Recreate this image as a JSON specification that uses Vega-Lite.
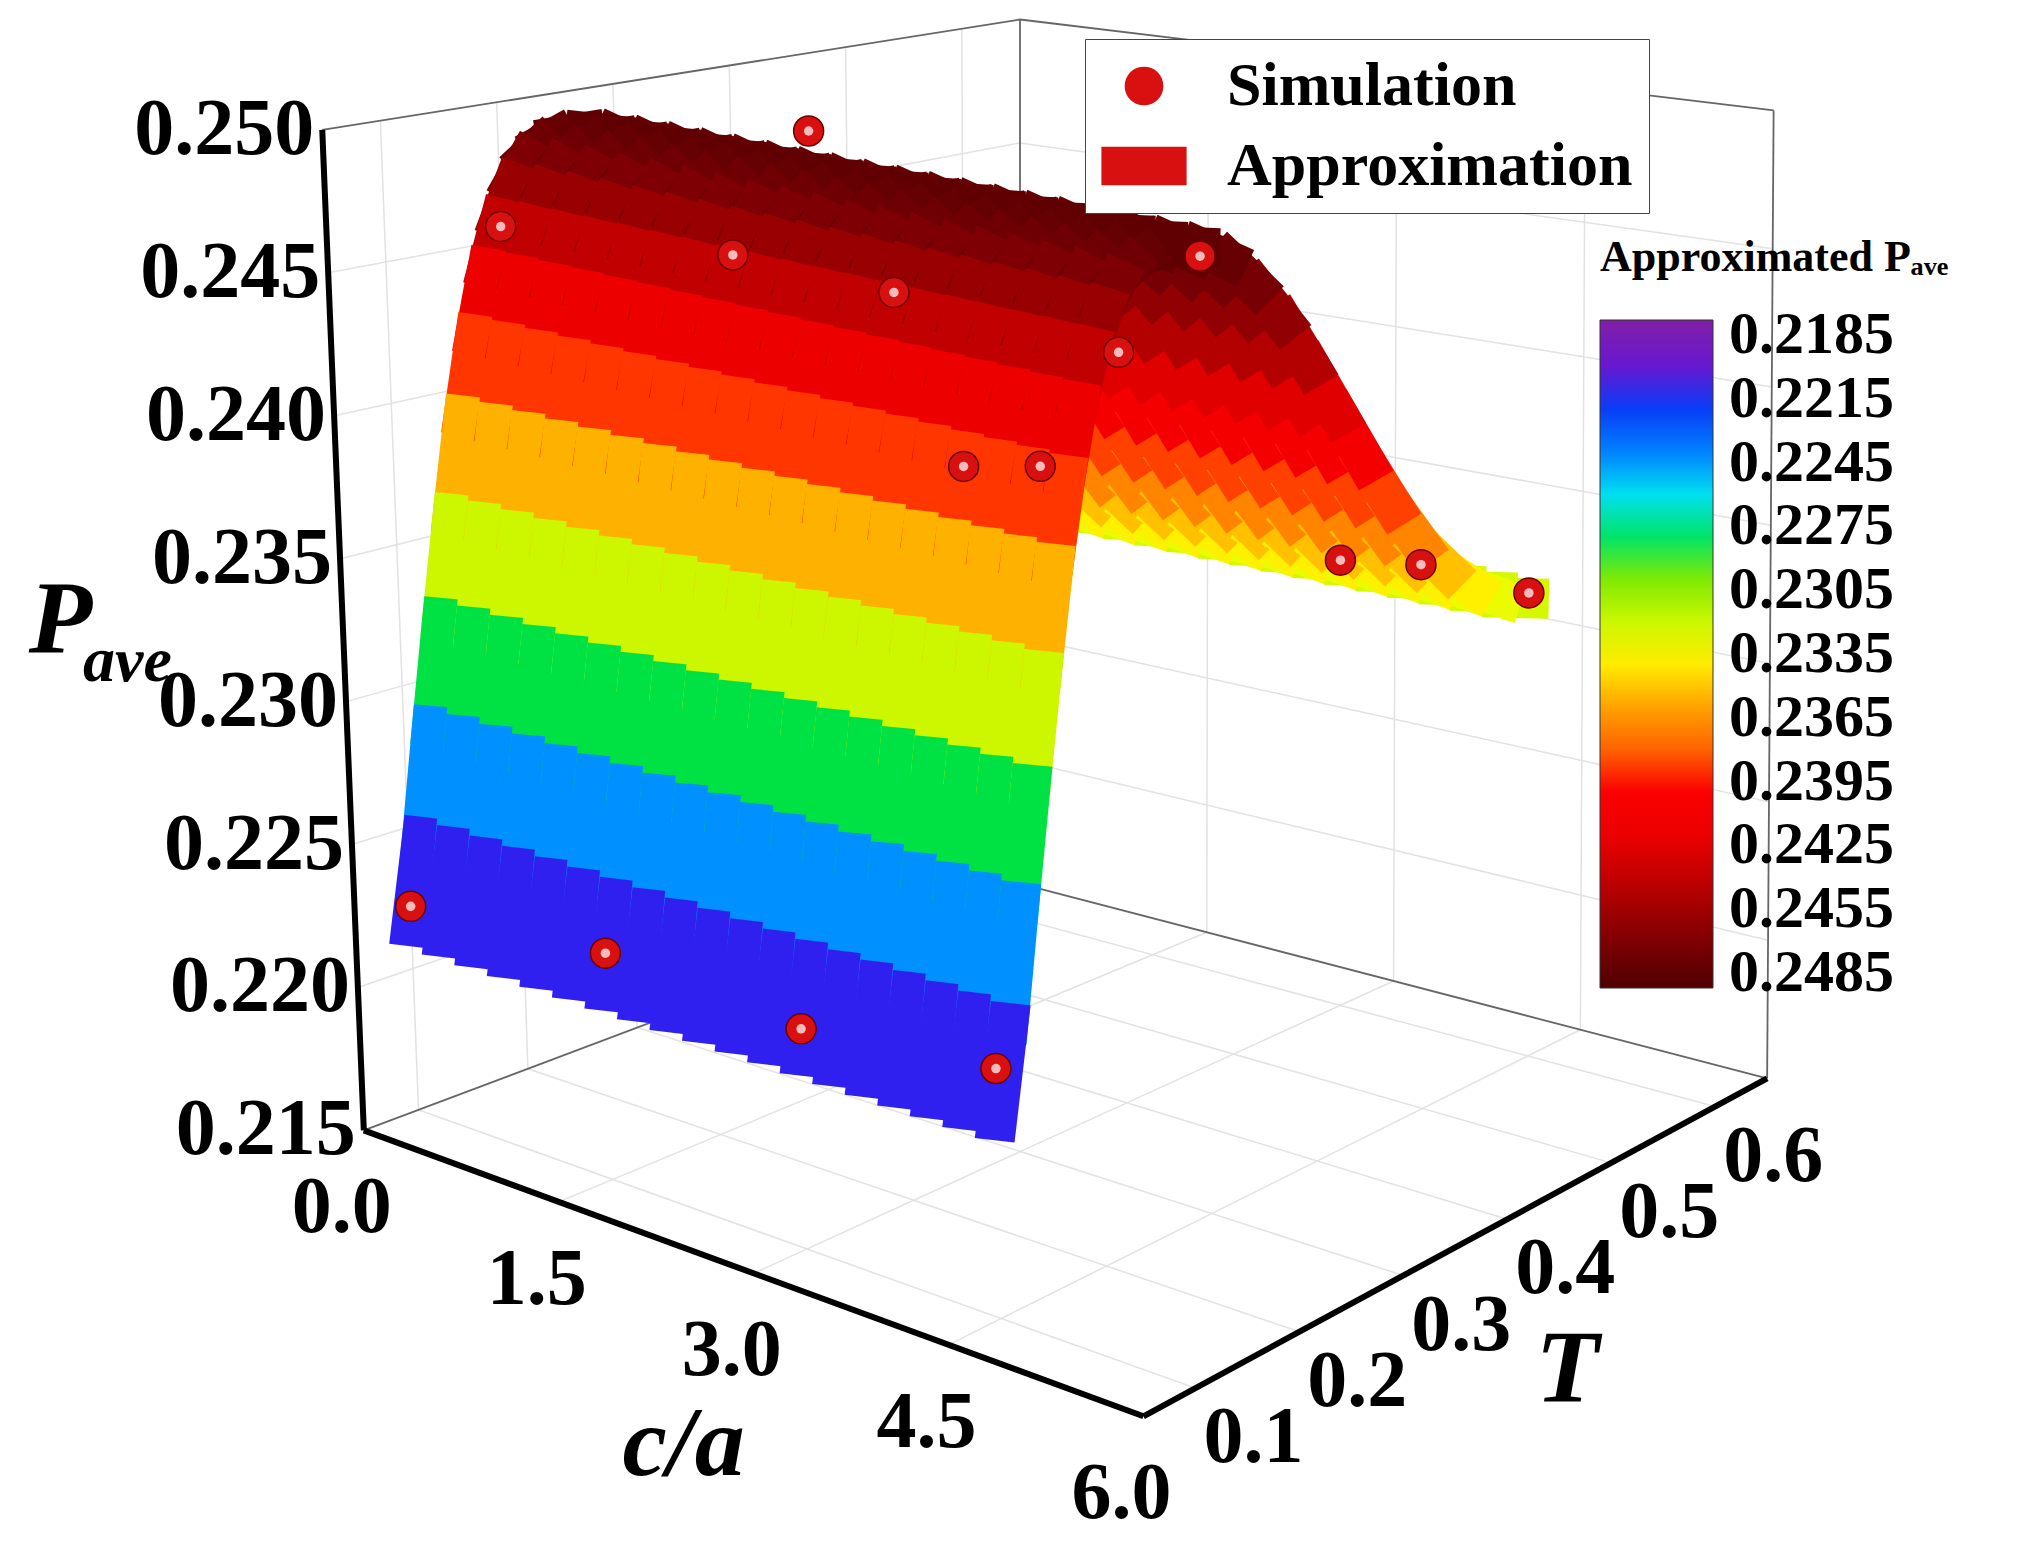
{
  "$schema": "https://vega.github.io/schema/vega-lite/v6.json",
  "width": 2027,
  "height": 1541,
  "autosize": "none",
  "padding": 0,
  "background": "white",
  "datasets": {
    "edges": [
      {"a": 0, "t": 0.05, "p": 0.215, "a2": 0, "t2": 0.05, "p2": 0.25, "k": "axis"},
      {"a": 0, "t": 0.05, "p": 0.215, "a2": 6, "t2": 0.05, "p2": 0.215, "k": "axis"},
      {"a": 6, "t": 0.05, "p": 0.215, "a2": 6, "t2": 0.65, "p2": 0.215, "k": "axis"},
      {"a": 0, "t": 0.65, "p": 0.215, "a2": 0, "t2": 0.65, "p2": 0.25, "k": "frame"},
      {"a": 6, "t": 0.65, "p": 0.215, "a2": 6, "t2": 0.65, "p2": 0.25, "k": "frame"},
      {"a": 0, "t": 0.05, "p": 0.215, "a2": 0, "t2": 0.65, "p2": 0.215, "k": "frame"},
      {"a": 0, "t": 0.65, "p": 0.215, "a2": 6, "t2": 0.65, "p2": 0.215, "k": "frame"},
      {"a": 0, "t": 0.05, "p": 0.25, "a2": 0, "t2": 0.65, "p2": 0.25, "k": "frame"},
      {"a": 0, "t": 0.65, "p": 0.25, "a2": 6, "t2": 0.65, "p2": 0.25, "k": "frame"},
      {"a": 1.5, "t": 0.05, "p": 0.215, "a2": 1.5, "t2": 0.65, "p2": 0.215, "k": "grid"},
      {"a": 3, "t": 0.05, "p": 0.215, "a2": 3, "t2": 0.65, "p2": 0.215, "k": "grid"},
      {"a": 4.5, "t": 0.05, "p": 0.215, "a2": 4.5, "t2": 0.65, "p2": 0.215, "k": "grid"},
      {"a": 0, "t": 0.1, "p": 0.215, "a2": 6, "t2": 0.1, "p2": 0.215, "k": "grid"},
      {"a": 0, "t": 0.2, "p": 0.215, "a2": 6, "t2": 0.2, "p2": 0.215, "k": "grid"},
      {"a": 0, "t": 0.3, "p": 0.215, "a2": 6, "t2": 0.3, "p2": 0.215, "k": "grid"},
      {"a": 0, "t": 0.4, "p": 0.215, "a2": 6, "t2": 0.4, "p2": 0.215, "k": "grid"},
      {"a": 0, "t": 0.5, "p": 0.215, "a2": 6, "t2": 0.5, "p2": 0.215, "k": "grid"},
      {"a": 0, "t": 0.6, "p": 0.215, "a2": 6, "t2": 0.6, "p2": 0.215, "k": "grid"},
      {"a": 0, "t": 0.05, "p": 0.22, "a2": 0, "t2": 0.65, "p2": 0.22, "k": "grid"},
      {"a": 0, "t": 0.05, "p": 0.225, "a2": 0, "t2": 0.65, "p2": 0.225, "k": "grid"},
      {"a": 0, "t": 0.05, "p": 0.23, "a2": 0, "t2": 0.65, "p2": 0.23, "k": "grid"},
      {"a": 0, "t": 0.05, "p": 0.235, "a2": 0, "t2": 0.65, "p2": 0.235, "k": "grid"},
      {"a": 0, "t": 0.05, "p": 0.24, "a2": 0, "t2": 0.65, "p2": 0.24, "k": "grid"},
      {"a": 0, "t": 0.05, "p": 0.245, "a2": 0, "t2": 0.65, "p2": 0.245, "k": "grid"},
      {"a": 0, "t": 0.1, "p": 0.215, "a2": 0, "t2": 0.1, "p2": 0.25, "k": "grid"},
      {"a": 0, "t": 0.2, "p": 0.215, "a2": 0, "t2": 0.2, "p2": 0.25, "k": "grid"},
      {"a": 0, "t": 0.3, "p": 0.215, "a2": 0, "t2": 0.3, "p2": 0.25, "k": "grid"},
      {"a": 0, "t": 0.4, "p": 0.215, "a2": 0, "t2": 0.4, "p2": 0.25, "k": "grid"},
      {"a": 0, "t": 0.5, "p": 0.215, "a2": 0, "t2": 0.5, "p2": 0.25, "k": "grid"},
      {"a": 0, "t": 0.6, "p": 0.215, "a2": 0, "t2": 0.6, "p2": 0.25, "k": "grid"},
      {"a": 0, "t": 0.65, "p": 0.22, "a2": 6, "t2": 0.65, "p2": 0.22, "k": "grid"},
      {"a": 0, "t": 0.65, "p": 0.225, "a2": 6, "t2": 0.65, "p2": 0.225, "k": "grid"},
      {"a": 0, "t": 0.65, "p": 0.23, "a2": 6, "t2": 0.65, "p2": 0.23, "k": "grid"},
      {"a": 0, "t": 0.65, "p": 0.235, "a2": 6, "t2": 0.65, "p2": 0.235, "k": "grid"},
      {"a": 0, "t": 0.65, "p": 0.24, "a2": 6, "t2": 0.65, "p2": 0.24, "k": "grid"},
      {"a": 0, "t": 0.65, "p": 0.245, "a2": 6, "t2": 0.65, "p2": 0.245, "k": "grid"},
      {"a": 1.5, "t": 0.65, "p": 0.215, "a2": 1.5, "t2": 0.65, "p2": 0.25, "k": "grid"},
      {"a": 3, "t": 0.65, "p": 0.215, "a2": 3, "t2": 0.65, "p2": 0.25, "k": "grid"},
      {"a": 4.5, "t": 0.65, "p": 0.215, "a2": 4.5, "t2": 0.65, "p2": 0.25, "k": "grid"}
    ],
    "surface": [
      {"t": 0.1, "p": 0.2215, "a": [0,0.25,0.5,0.75,1,1.25,1.5,1.75,2,2.25,2.5,2.75,3,3.25,3.5,3.75,4,4.25,4.5]},
      {"t": 0.1125, "p": 0.2245, "a": [0,0.25,0.5,0.75,1,1.25,1.5,1.75,2,2.25,2.5,2.75,3,3.25,3.5,3.75,4,4.25,4.5]},
      {"t": 0.125, "p": 0.2283, "a": [0,0.25,0.5,0.75,1,1.25,1.5,1.75,2,2.25,2.5,2.75,3,3.25,3.5,3.75,4,4.25,4.5]},
      {"t": 0.1375, "p": 0.2320, "a": [0,0.25,0.5,0.75,1,1.25,1.5,1.75,2,2.25,2.5,2.75,3,3.25,3.5,3.75,4,4.25,4.5]},
      {"t": 0.15, "p": 0.2356, "a": [0,0.25,0.5,0.75,1,1.25,1.5,1.75,2,2.25,2.5,2.75,3,3.25,3.5,3.75,4,4.25,4.5]},
      {"t": 0.1625, "p": 0.2390, "a": [0,0.25,0.5,0.75,1,1.25,1.5,1.75,2,2.25,2.5,2.75,3,3.25,3.5,3.75,4,4.25,4.5]},
      {"t": 0.175, "p": 0.2418, "a": [0,0.25,0.5,0.75,1,1.25,1.5,1.75,2,2.25,2.5,2.75,3,3.25,3.5,3.75,4,4.25,4.5]},
      {"t": 0.1875, "p": 0.2441, "a": [0,0.25,0.5,0.75,1,1.25,1.5,1.75,2,2.25,2.5,2.75,3,3.25,3.5,3.75,4,4.25,4.5]},
      {"t": 0.2, "p": 0.2458, "a": [0,0.25,0.5,0.75,1,1.25,1.5,1.75,2,2.25,2.5,2.75,3,3.25,3.5,3.75,4,4.25,4.5]},
      {"t": 0.2125, "p": 0.2470, "a": [0,0.25,0.5,0.75,1,1.25,1.5,1.75,2,2.25,2.5,2.75,3,3.25,3.5,3.75,4,4.25,4.5]},
      {"t": 0.225, "p": 0.2478, "a": [0,0.25,0.5,0.75,1,1.25,1.5,1.75,2,2.25,2.5,2.75,3,3.25,3.5,3.75,4,4.25,4.5]},
      {"t": 0.2375, "p": 0.2482, "a": [0,0.25,0.5,0.75,1,1.25,1.5,1.75,2,2.25,2.5,2.75,3,3.25,3.5,3.75,4,4.25,4.5]},
      {"t": 0.25, "p": 0.2484, "a": [0,0.25,0.5,0.75,1,1.25,1.5,1.75,2,2.25,2.5,2.75,3,3.25,3.5,3.75,4,4.25,4.5]},
      {"t": 0.275, "p": 0.2484, "a": [0,0.25,0.5,0.75,1,1.25,1.5,1.75,2,2.25,2.5,2.75,3,3.25,3.5,3.75,4,4.25,4.5]},
      {"t": 0.3, "p": 0.2481, "a": [0,0.25,0.5,0.75,1,1.25,1.5,1.75,2,2.25,2.5,2.75,3,3.25,3.5,3.75,4,4.25,4.5]},
      {"t": 0.325, "p": 0.2474, "a": [0,0.25,0.5,0.75,1,1.25,1.5,1.75,2,2.25,2.5,2.75,3,3.25,3.5,3.75,4,4.25,4.5]},
      {"t": 0.35, "p": 0.2462, "a": [0,0.25,0.5,0.75,1,1.25,1.5,1.75,2,2.25,2.5,2.75,3,3.25,3.5,3.75,4,4.25,4.5]},
      {"t": 0.375, "p": 0.2447, "a": [0,0.25,0.5,0.75,1,1.25,1.5,1.75,2,2.25,2.5,2.75,3,3.25,3.5,3.75,4,4.25,4.5]},
      {"t": 0.4, "p": 0.2428, "a": [0,0.25,0.5,0.75,1,1.25,1.5,1.75,2,2.25,2.5,2.75,3,3.25,3.5,3.75,4,4.25,4.5]},
      {"t": 0.425, "p": 0.2408, "a": [0,0.25,0.5,0.75,1,1.25,1.5,1.75,2,2.25,2.5,2.75,3,3.25,3.5,3.75,4,4.25,4.5]},
      {"t": 0.45, "p": 0.2388, "a": [0,0.25,0.5,0.75,1,1.25,1.5,1.75,2,2.25,2.5,2.75,3,3.25,3.5,3.75,4,4.25,4.5]},
      {"t": 0.475, "p": 0.2369, "a": [0,0.25,0.5,0.75,1,1.25,1.5,1.75,2,2.25,2.5,2.75,3,3.25,3.5,3.75,4,4.25,4.5]},
      {"t": 0.5, "p": 0.2352, "a": [0,0.25,0.5,0.75,1,1.25,1.5,1.75,2,2.25,2.5,2.75,3,3.25,3.5,3.75,4,4.25,4.5]},
      {"t": 0.525, "p": 0.2339, "a": [0,0.25,0.5,0.75,1,1.25,1.5,1.75,2,2.25,2.5,2.75,3,3.25,3.5,3.75,4,4.25,4.5]},
      {"t": 0.55, "p": 0.2329, "a": [0,0.25,0.5,0.75,1,1.25,1.5,1.75,2,2.25,2.5,2.75,3,3.25,3.5,3.75,4,4.25,4.5]},
      {"t": 0.575, "p": 0.2322, "a": [0,0.25,0.5,0.75,1,1.25,1.5,1.75,2,2.25,2.5,2.75,3,3.25,3.5,3.75,4,4.25,4.5]},
      {"t": 0.6, "p": 0.2318, "a": [0,0.25,0.5,0.75,1,1.25,1.5,1.75,2,2.25,2.5,2.75,3,3.25,3.5,3.75,4,4.25,4.5]}
    ],
    "sim": [
      {"a": 0, "t": 0.1, "p": 0.2222, "s": "Simulation"},
      {"a": 1.5, "t": 0.1, "p": 0.2228, "s": "Simulation"},
      {"a": 3, "t": 0.1, "p": 0.2224, "s": "Simulation"},
      {"a": 4.5, "t": 0.1, "p": 0.2232, "s": "Simulation"},
      {"a": 0, "t": 0.2, "p": 0.2455, "s": "Simulation"},
      {"a": 3, "t": 0.2, "p": 0.2462, "s": "Simulation"},
      {"a": 1.5, "t": 0.3, "p": 0.2496, "s": "Simulation"},
      {"a": 4.5, "t": 0.3, "p": 0.2478, "s": "Simulation"},
      {"a": 0, "t": 0.4, "p": 0.2428, "s": "Simulation"},
      {"a": 3, "t": 0.4, "p": 0.242, "s": "Simulation"},
      {"a": 1.5, "t": 0.5, "p": 0.2352, "s": "Simulation"},
      {"a": 4.5, "t": 0.5, "p": 0.2345, "s": "Simulation"},
      {"a": 0, "t": 0.6, "p": 0.2325, "s": "Simulation"},
      {"a": 3, "t": 0.6, "p": 0.2318, "s": "Simulation"},
      {"a": 4.5, "t": 0.6, "p": 0.232, "s": "Simulation"}
    ],
    "ticks": [
      {"a": 0, "t": 0.05, "p": 0.215, "label": "0.215", "g": "p"},
      {"a": 0, "t": 0.05, "p": 0.22, "label": "0.220", "g": "p"},
      {"a": 0, "t": 0.05, "p": 0.225, "label": "0.225", "g": "p"},
      {"a": 0, "t": 0.05, "p": 0.23, "label": "0.230", "g": "p"},
      {"a": 0, "t": 0.05, "p": 0.235, "label": "0.235", "g": "p"},
      {"a": 0, "t": 0.05, "p": 0.24, "label": "0.240", "g": "p"},
      {"a": 0, "t": 0.05, "p": 0.245, "label": "0.245", "g": "p"},
      {"a": 0, "t": 0.05, "p": 0.25, "label": "0.250", "g": "p"},
      {"a": 0, "t": 0.05, "p": 0.215, "label": "0.0", "g": "c"},
      {"a": 1.5, "t": 0.05, "p": 0.215, "label": "1.5", "g": "c"},
      {"a": 3, "t": 0.05, "p": 0.215, "label": "3.0", "g": "c"},
      {"a": 4.5, "t": 0.05, "p": 0.215, "label": "4.5", "g": "c"},
      {"a": 6, "t": 0.05, "p": 0.215, "label": "6.0", "g": "c"},
      {"a": 6, "t": 0.1, "p": 0.215, "label": "0.1", "g": "t"},
      {"a": 6, "t": 0.2, "p": 0.215, "label": "0.2", "g": "t"},
      {"a": 6, "t": 0.3, "p": 0.215, "label": "0.3", "g": "t"},
      {"a": 6, "t": 0.4, "p": 0.215, "label": "0.4", "g": "t"},
      {"a": 6, "t": 0.5, "p": 0.215, "label": "0.5", "g": "t"},
      {"a": 6, "t": 0.6, "p": 0.215, "label": "0.6", "g": "t"}
    ],
    "titles": [
      {"a": 0, "t": 0.05, "p": 0.233, "label": "P", "g": "P"},
      {"a": 0, "t": 0.05, "p": 0.233, "label": "ave", "g": "ave"},
      {"a": 3, "t": 0.05, "p": 0.215, "label": "c/a", "g": "ca"},
      {"a": 6, "t": 0.45, "p": 0.215, "label": "T", "g": "T"}
    ]
  },
  "encoding": {
    "x": {"field": "sx", "type": "quantitative", "scale": {"domain": [0, 1560], "nice": false, "zero": false}, "axis": null},
    "y": {"field": "sy", "type": "quantitative", "scale": {"domain": [0, 1186], "nice": false, "zero": false, "reverse": true}, "axis": null}
  },
  "layer": [
    {
      "data": {"name": "edges"},
      "transform": [
        {"filter": "datum.k == 'grid'"},
        {"calculate": "datum.a/6", "as": "u"},
        {"calculate": "(datum.t-0.05)/0.6", "as": "v"},
        {"calculate": "(datum.p-0.215)/0.035", "as": "h"},
        {"calculate": "datum.a2/6", "as": "u2"},
        {"calculate": "(datum.t2-0.05)/0.6", "as": "v2"},
        {"calculate": "(datum.p2-0.215)/0.035", "as": "h2"},
        {"calculate": "(1-datum.u)*(1-datum.v)*(280-32*datum.h)+datum.u*(1-datum.v)*(880-15*datum.h)+datum.u*datum.v*(1360+5*datum.h)+(1-datum.u)*datum.v*785", "as": "sx"},
        {"calculate": "(1-datum.u)*(1-datum.v)*(870-770*datum.h)+datum.u*(1-datum.v)*(1090-850*datum.h)+datum.u*datum.v*(830-745*datum.h)+(1-datum.u)*datum.v*(680-665*datum.h)", "as": "sy"},
        {"calculate": "(1-datum.u2)*(1-datum.v2)*(280-32*datum.h2)+datum.u2*(1-datum.v2)*(880-15*datum.h2)+datum.u2*datum.v2*(1360+5*datum.h2)+(1-datum.u2)*datum.v2*785", "as": "sx2"},
        {"calculate": "(1-datum.u2)*(1-datum.v2)*(870-770*datum.h2)+datum.u2*(1-datum.v2)*(1090-850*datum.h2)+datum.u2*datum.v2*(830-745*datum.h2)+(1-datum.u2)*datum.v2*(680-665*datum.h2)", "as": "sy2"}
      ],
      "mark": {"type": "rule", "color": "#e2e2e2", "strokeWidth": 1.5},
      "encoding": {"x2": {"field": "sx2"}, "y2": {"field": "sy2"}}
    },
    {
      "data": {"name": "edges"},
      "transform": [
        {"filter": "datum.k == 'frame'"},
        {"calculate": "datum.a/6", "as": "u"},
        {"calculate": "(datum.t-0.05)/0.6", "as": "v"},
        {"calculate": "(datum.p-0.215)/0.035", "as": "h"},
        {"calculate": "datum.a2/6", "as": "u2"},
        {"calculate": "(datum.t2-0.05)/0.6", "as": "v2"},
        {"calculate": "(datum.p2-0.215)/0.035", "as": "h2"},
        {"calculate": "(1-datum.u)*(1-datum.v)*(280-32*datum.h)+datum.u*(1-datum.v)*(880-15*datum.h)+datum.u*datum.v*(1360+5*datum.h)+(1-datum.u)*datum.v*785", "as": "sx"},
        {"calculate": "(1-datum.u)*(1-datum.v)*(870-770*datum.h)+datum.u*(1-datum.v)*(1090-850*datum.h)+datum.u*datum.v*(830-745*datum.h)+(1-datum.u)*datum.v*(680-665*datum.h)", "as": "sy"},
        {"calculate": "(1-datum.u2)*(1-datum.v2)*(280-32*datum.h2)+datum.u2*(1-datum.v2)*(880-15*datum.h2)+datum.u2*datum.v2*(1360+5*datum.h2)+(1-datum.u2)*datum.v2*785", "as": "sx2"},
        {"calculate": "(1-datum.u2)*(1-datum.v2)*(870-770*datum.h2)+datum.u2*(1-datum.v2)*(1090-850*datum.h2)+datum.u2*datum.v2*(830-745*datum.h2)+(1-datum.u2)*datum.v2*(680-665*datum.h2)", "as": "sy2"}
      ],
      "mark": {"type": "rule", "color": "#666666", "strokeWidth": 1.8},
      "encoding": {"x2": {"field": "sx2"}, "y2": {"field": "sy2"}}
    },
    {
      "data": {"name": "surface"},
      "transform": [
        {"flatten": ["a"]},
        {"calculate": "datum.a/6", "as": "u"},
        {"calculate": "(datum.t-0.05)/0.6", "as": "v"},
        {"calculate": "(datum.p-0.215)/0.035", "as": "h"},
        {"calculate": "-datum.p", "as": "np"},
        {"calculate": "(1-datum.u)*(1-datum.v)*(280-32*datum.h)+datum.u*(1-datum.v)*(880-15*datum.h)+datum.u*datum.v*(1360+5*datum.h)+(1-datum.u)*datum.v*785", "as": "sx"},
        {"calculate": "(1-datum.u)*(1-datum.v)*(870-770*datum.h)+datum.u*(1-datum.v)*(1090-850*datum.h)+datum.u*datum.v*(830-745*datum.h)+(1-datum.u)*datum.v*(680-665*datum.h)", "as": "sy"},
        {"window": [{"op": "lead", "field": "sx", "as": "sx2"}, {"op": "lead", "field": "sy", "as": "sy2"}], "groupby": ["a"], "sort": [{"field": "t", "order": "ascending"}]},
        {"filter": "datum.sx2 != null"},
        {"calculate": "datum.a - datum.t*10", "as": "z"}
      ],
      "mark": {"type": "rule", "strokeWidth": 40, "strokeCap": "square"},
      "encoding": {
        "x2": {"field": "sx2"},
        "y2": {"field": "sy2"},
        "order": {"field": "z", "type": "quantitative"},
        "color": {
          "field": "np",
          "type": "quantitative",
          "scale": {
            "domain": [-0.2492, -0.2455, -0.2425, -0.2395, -0.2365, -0.2335, -0.231, -0.2285, -0.226, -0.2245, -0.2215, -0.2178],
            "range": ["#500000", "#a00000", "#e80000", "#ff0000", "#ff9000", "#ffff00", "#a8f000", "#10e020", "#00e0f0", "#0090ff", "#3020f0", "#8020a8"],
            "clamp": true
          },
          "legend": {
            "title": "Approximated Pₐᵥₑ",
            "orient": "none",
            "legendX": 1600,
            "legendY": 236,
            "direction": "vertical",
            "gradientLength": 668,
            "gradientThickness": 113,
            "gradientStrokeColor": "#333",
            "gradientStrokeWidth": 1,
            "values": [-0.2185, -0.2215, -0.2245, -0.2275, -0.2305, -0.2335, -0.2365, -0.2395, -0.2425, -0.2455, -0.2485],
            "labelExpr": "format(-datum.value, '.4f')",
            "labelOverlap": false,
            "labelFont": "Liberation Serif",
            "labelFontWeight": "bold",
            "labelFontSize": 60,
            "labelColor": "black",
            "labelOffset": 16,
            "titleFont": "Liberation Serif",
            "titleFontWeight": "bold",
            "titleFontSize": 44,
            "titleColor": "black",
            "titlePadding": 40,
            "titleLimit": 700
          }
        }
      }
    },
    {
      "data": {"name": "edges"},
      "transform": [
        {"filter": "datum.k == 'axis'"},
        {"calculate": "datum.a/6", "as": "u"},
        {"calculate": "(datum.t-0.05)/0.6", "as": "v"},
        {"calculate": "(datum.p-0.215)/0.035", "as": "h"},
        {"calculate": "datum.a2/6", "as": "u2"},
        {"calculate": "(datum.t2-0.05)/0.6", "as": "v2"},
        {"calculate": "(datum.p2-0.215)/0.035", "as": "h2"},
        {"calculate": "(1-datum.u)*(1-datum.v)*(280-32*datum.h)+datum.u*(1-datum.v)*(880-15*datum.h)+datum.u*datum.v*(1360+5*datum.h)+(1-datum.u)*datum.v*785", "as": "sx"},
        {"calculate": "(1-datum.u)*(1-datum.v)*(870-770*datum.h)+datum.u*(1-datum.v)*(1090-850*datum.h)+datum.u*datum.v*(830-745*datum.h)+(1-datum.u)*datum.v*(680-665*datum.h)", "as": "sy"},
        {"calculate": "(1-datum.u2)*(1-datum.v2)*(280-32*datum.h2)+datum.u2*(1-datum.v2)*(880-15*datum.h2)+datum.u2*datum.v2*(1360+5*datum.h2)+(1-datum.u2)*datum.v2*785", "as": "sx2"},
        {"calculate": "(1-datum.u2)*(1-datum.v2)*(870-770*datum.h2)+datum.u2*(1-datum.v2)*(1090-850*datum.h2)+datum.u2*datum.v2*(830-745*datum.h2)+(1-datum.u2)*datum.v2*(680-665*datum.h2)", "as": "sy2"}
      ],
      "mark": {"type": "rule", "color": "black", "strokeWidth": 6},
      "encoding": {"x2": {"field": "sx2"}, "y2": {"field": "sy2"}}
    },
    {
      "data": {"name": "sim"},
      "transform": [
        {"calculate": "datum.a/6", "as": "u"},
        {"calculate": "(datum.t-0.05)/0.6", "as": "v"},
        {"calculate": "(datum.p-0.215)/0.035", "as": "h"},
        {"calculate": "(1-datum.u)*(1-datum.v)*(280-32*datum.h)+datum.u*(1-datum.v)*(880-15*datum.h)+datum.u*datum.v*(1360+5*datum.h)+(1-datum.u)*datum.v*785", "as": "sx"},
        {"calculate": "(1-datum.u)*(1-datum.v)*(870-770*datum.h)+datum.u*(1-datum.v)*(1090-850*datum.h)+datum.u*datum.v*(830-745*datum.h)+(1-datum.u)*datum.v*(680-665*datum.h)", "as": "sy"}
      ],
      "mark": {"type": "point", "filled": true, "size": 900, "stroke": "#6a0000", "strokeWidth": 1.5, "opacity": 1},
      "encoding": {
        "shape": {
          "field": "s",
          "type": "nominal",
          "scale": {"domain": ["Simulation", "Approximation"], "range": ["circle", "M-2.2,-1H2.2V1H-2.2Z"]},
          "legend": {
            "title": null,
            "orient": "none",
            "legendX": 1085,
            "legendY": 39,
            "padding": 16,
            "strokeColor": "#444",
            "fillColor": "white",
            "symbolSize": 1500,
            "symbolFillColor": "#d81010",
            "symbolStrokeColor": "#6a0000",
            "symbolOffset": 12,
            "labelFont": "Liberation Serif",
            "labelFontWeight": "bold",
            "labelFontSize": 62,
            "labelColor": "black",
            "labelOffset": 52,
            "rowPadding": 18,
            "labelLimit": 600
          }
        },
        "fill": {"value": "#d81010"}
      }
    },
    {
      "data": {"name": "sim"},
      "transform": [
        {"calculate": "datum.a/6", "as": "u"},
        {"calculate": "(datum.t-0.05)/0.6", "as": "v"},
        {"calculate": "(datum.p-0.215)/0.035", "as": "h"},
        {"calculate": "(1-datum.u)*(1-datum.v)*(280-32*datum.h)+datum.u*(1-datum.v)*(880-15*datum.h)+datum.u*datum.v*(1360+5*datum.h)+(1-datum.u)*datum.v*785", "as": "sx"},
        {"calculate": "(1-datum.u)*(1-datum.v)*(870-770*datum.h)+datum.u*(1-datum.v)*(1090-850*datum.h)+datum.u*datum.v*(830-745*datum.h)+(1-datum.u)*datum.v*(680-665*datum.h)", "as": "sy"}
      ],
      "mark": {"type": "circle", "size": 90, "color": "#ffd8d8", "opacity": 0.85, "dx": -6, "dy": -7}
    },
    {
      "data": {"name": "ticks"},
      "transform": [
        {"calculate": "datum.a/6", "as": "u"},
        {"calculate": "(datum.t-0.05)/0.6", "as": "v"},
        {"calculate": "(datum.p-0.215)/0.035", "as": "h"},
        {"calculate": "(1-datum.u)*(1-datum.v)*(280-32*datum.h)+datum.u*(1-datum.v)*(880-15*datum.h)+datum.u*datum.v*(1360+5*datum.h)+(1-datum.u)*datum.v*785", "as": "sx"},
        {"calculate": "(1-datum.u)*(1-datum.v)*(870-770*datum.h)+datum.u*(1-datum.v)*(1090-850*datum.h)+datum.u*datum.v*(830-745*datum.h)+(1-datum.u)*datum.v*(680-665*datum.h)", "as": "sy"},
        {"filter": "datum.g == 'p'"}
      ],
      "mark": {"type": "text", "font": "Liberation Serif", "fontWeight": "bold", "fontSize": 80, "align": "right", "baseline": "middle", "dx": -8, "color": "black"},
      "encoding": {"text": {"field": "label"}}
    },
    {
      "data": {"name": "ticks"},
      "transform": [
        {"calculate": "datum.a/6", "as": "u"},
        {"calculate": "(datum.t-0.05)/0.6", "as": "v"},
        {"calculate": "(datum.p-0.215)/0.035", "as": "h"},
        {"calculate": "(1-datum.u)*(1-datum.v)*(280-32*datum.h)+datum.u*(1-datum.v)*(880-15*datum.h)+datum.u*datum.v*(1360+5*datum.h)+(1-datum.u)*datum.v*785", "as": "sx"},
        {"calculate": "(1-datum.u)*(1-datum.v)*(870-770*datum.h)+datum.u*(1-datum.v)*(1090-850*datum.h)+datum.u*datum.v*(830-745*datum.h)+(1-datum.u)*datum.v*(680-665*datum.h)", "as": "sy"},
        {"filter": "datum.g == 'c'"}
      ],
      "mark": {"type": "text", "font": "Liberation Serif", "fontWeight": "bold", "fontSize": 80, "align": "center", "baseline": "middle", "dx": -22, "dy": 78, "color": "black"},
      "encoding": {"text": {"field": "label"}}
    },
    {
      "data": {"name": "ticks"},
      "transform": [
        {"calculate": "datum.a/6", "as": "u"},
        {"calculate": "(datum.t-0.05)/0.6", "as": "v"},
        {"calculate": "(datum.p-0.215)/0.035", "as": "h"},
        {"calculate": "(1-datum.u)*(1-datum.v)*(280-32*datum.h)+datum.u*(1-datum.v)*(880-15*datum.h)+datum.u*datum.v*(1360+5*datum.h)+(1-datum.u)*datum.v*785", "as": "sx"},
        {"calculate": "(1-datum.u)*(1-datum.v)*(870-770*datum.h)+datum.u*(1-datum.v)*(1090-850*datum.h)+datum.u*datum.v*(830-745*datum.h)+(1-datum.u)*datum.v*(680-665*datum.h)", "as": "sy"},
        {"filter": "datum.g == 't'"}
      ],
      "mark": {"type": "text", "font": "Liberation Serif", "fontWeight": "bold", "fontSize": 80, "align": "center", "baseline": "middle", "dx": 58, "dy": 50, "color": "black"},
      "encoding": {"text": {"field": "label"}}
    },
    {
      "data": {"name": "titles"},
      "transform": [
        {"calculate": "datum.a/6", "as": "u"},
        {"calculate": "(datum.t-0.05)/0.6", "as": "v"},
        {"calculate": "(datum.p-0.215)/0.035", "as": "h"},
        {"calculate": "(1-datum.u)*(1-datum.v)*(280-32*datum.h)+datum.u*(1-datum.v)*(880-15*datum.h)+datum.u*datum.v*(1360+5*datum.h)+(1-datum.u)*datum.v*785", "as": "sx"},
        {"calculate": "(1-datum.u)*(1-datum.v)*(870-770*datum.h)+datum.u*(1-datum.v)*(1090-850*datum.h)+datum.u*datum.v*(830-745*datum.h)+(1-datum.u)*datum.v*(680-665*datum.h)", "as": "sy"},
        {"filter": "datum.g == 'P'"}
      ],
      "mark": {"type": "text", "font": "Liberation Serif", "fontWeight": "bold", "fontStyle": "italic", "fontSize": 104, "align": "center", "baseline": "middle", "dx": -282, "dy": 6, "color": "black"},
      "encoding": {"text": {"field": "label"}}
    },
    {
      "data": {"name": "titles"},
      "transform": [
        {"calculate": "datum.a/6", "as": "u"},
        {"calculate": "(datum.t-0.05)/0.6", "as": "v"},
        {"calculate": "(datum.p-0.215)/0.035", "as": "h"},
        {"calculate": "(1-datum.u)*(1-datum.v)*(280-32*datum.h)+datum.u*(1-datum.v)*(880-15*datum.h)+datum.u*datum.v*(1360+5*datum.h)+(1-datum.u)*datum.v*785", "as": "sx"},
        {"calculate": "(1-datum.u)*(1-datum.v)*(870-770*datum.h)+datum.u*(1-datum.v)*(1090-850*datum.h)+datum.u*datum.v*(830-745*datum.h)+(1-datum.u)*datum.v*(680-665*datum.h)", "as": "sy"},
        {"filter": "datum.g == 'ave'"}
      ],
      "mark": {"type": "text", "font": "Liberation Serif", "fontWeight": "bold", "fontStyle": "italic", "fontSize": 64, "align": "center", "baseline": "middle", "dx": -215, "dy": 46, "color": "black"},
      "encoding": {"text": {"field": "label"}}
    },
    {
      "data": {"name": "titles"},
      "transform": [
        {"calculate": "datum.a/6", "as": "u"},
        {"calculate": "(datum.t-0.05)/0.6", "as": "v"},
        {"calculate": "(datum.p-0.215)/0.035", "as": "h"},
        {"calculate": "(1-datum.u)*(1-datum.v)*(280-32*datum.h)+datum.u*(1-datum.v)*(880-15*datum.h)+datum.u*datum.v*(1360+5*datum.h)+(1-datum.u)*datum.v*785", "as": "sx"},
        {"calculate": "(1-datum.u)*(1-datum.v)*(870-770*datum.h)+datum.u*(1-datum.v)*(1090-850*datum.h)+datum.u*datum.v*(830-745*datum.h)+(1-datum.u)*datum.v*(680-665*datum.h)", "as": "sy"},
        {"filter": "datum.g == 'ca'"}
      ],
      "mark": {"type": "text", "font": "Liberation Serif", "fontWeight": "bold", "fontStyle": "italic", "fontSize": 100, "align": "center", "baseline": "middle", "dx": -70, "dy": 172, "color": "black"},
      "encoding": {"text": {"field": "label"}}
    },
    {
      "data": {"name": "titles"},
      "transform": [
        {"calculate": "datum.a/6", "as": "u"},
        {"calculate": "(datum.t-0.05)/0.6", "as": "v"},
        {"calculate": "(datum.p-0.215)/0.035", "as": "h"},
        {"calculate": "(1-datum.u)*(1-datum.v)*(280-32*datum.h)+datum.u*(1-datum.v)*(880-15*datum.h)+datum.u*datum.v*(1360+5*datum.h)+(1-datum.u)*datum.v*785", "as": "sx"},
        {"calculate": "(1-datum.u)*(1-datum.v)*(870-770*datum.h)+datum.u*(1-datum.v)*(1090-850*datum.h)+datum.u*datum.v*(830-745*datum.h)+(1-datum.u)*datum.v*(680-665*datum.h)", "as": "sy"},
        {"filter": "datum.g == 'T'"}
      ],
      "mark": {"type": "text", "font": "Liberation Serif", "fontWeight": "bold", "fontStyle": "italic", "fontSize": 104, "align": "center", "baseline": "middle", "dx": 8, "dy": 180, "color": "black"},
      "encoding": {"text": {"field": "label"}}
    }
  ],
  "config": {"view": {"stroke": null}}
}
